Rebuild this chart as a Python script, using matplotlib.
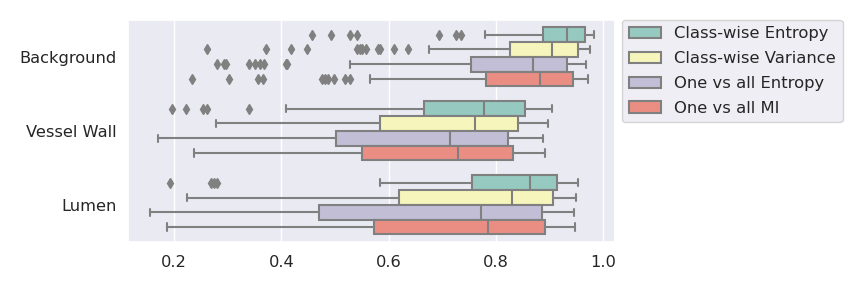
import numpy as np
import matplotlib
matplotlib.use("Agg")
import matplotlib.pyplot as plt
import matplotlib.patches as mpatches
import seaborn as sns

categories = ["Background", "Vessel Wall", "Lumen"]
methods = ["Class-wise Entropy", "Class-wise Variance", "One vs all Entropy", "One vs all MI"]

# box stats: [whislo, q1, med, q3, whishi] per method, per category
bg_stats = [
    [0.779, 0.887, 0.933, 0.966, 0.983],
    [0.676, 0.826, 0.904, 0.952, 0.975],
    [0.528, 0.753, 0.869, 0.932, 0.967],
    [0.565, 0.781, 0.882, 0.944, 0.972],
]
vw_stats = [
    [0.408, 0.665, 0.778, 0.854, 0.905],
    [0.279, 0.584, 0.761, 0.841, 0.897],
    [0.170, 0.501, 0.714, 0.822, 0.888],
    [0.238, 0.550, 0.729, 0.832, 0.891],
]
lu_stats = [
    [0.583, 0.755, 0.863, 0.914, 0.953],
    [0.224, 0.619, 0.830, 0.906, 0.949],
    [0.155, 0.470, 0.772, 0.886, 0.945],
    [0.186, 0.572, 0.785, 0.891, 0.947],
]

# outliers
bg_fliers = [
    [0.457, 0.493, 0.528, 0.541, 0.694, 0.725, 0.734],
    [0.262, 0.371, 0.418, 0.448, 0.541, 0.546, 0.551, 0.557, 0.580, 0.584, 0.610, 0.636],
    [0.280, 0.293, 0.297, 0.339, 0.351, 0.360, 0.367, 0.408, 0.411],
    [0.233, 0.303, 0.357, 0.366, 0.476, 0.481, 0.486, 0.499, 0.519, 0.528],
]
vw_fliers = [
    [0.196, 0.223, 0.254, 0.262, 0.340],
    [], [], [],
]
lu_fliers = [
    [0.193, 0.268, 0.274, 0.280],
    [], [], [],
]

all_stats = [bg_stats, vw_stats, lu_stats]
all_fliers = [bg_fliers, vw_fliers, lu_fliers]

sns.set_theme(style="darkgrid")
palette = [sns.desaturate(c, 0.75) for c in sns.color_palette("Set3", 4)]
gray = "#808080"
fs = 11.7

fig = plt.figure(figsize=(8.64, 2.88), dpi=100)
ax = fig.add_axes([0.148, 0.160, 0.564, 0.771])

n = len(methods)
w = 0.8 / n
for i, cat in enumerate(categories):
    for j in range(n):
        lo, q1, med, q3, hi = all_stats[i][j]
        st = dict(whislo=lo, q1=q1, med=med, q3=q3, whishi=hi,
                  fliers=np.array(all_fliers[i][j]))
        pos = i + (j - (n - 1) / 2) * w
        ax.bxp([st], positions=[pos], widths=w * .98, orientation="horizontal",
               patch_artist=True, showfliers=True,
               boxprops=dict(facecolor=palette[j], edgecolor=gray, linewidth=1.5),
               whiskerprops=dict(color=gray, linewidth=1.5),
               capprops=dict(color=gray, linewidth=1.5),
               medianprops=dict(color=gray, linewidth=1.5),
               flierprops=dict(marker="d", markerfacecolor=gray, markeredgecolor=gray,
                               markersize=5, linestyle="none"),
               manage_ticks=False)

ax.set_yticks(range(len(categories)))
ax.set_yticklabels(categories, fontsize=fs)
ax.set_ylim(len(categories) - 0.5, -0.5)
ax.set_xlim(0.114, 1.022)
ax.set_xticks([0.2, 0.4, 0.6, 0.8, 1.0])
ax.tick_params(axis="x", labelsize=fs)
ax.tick_params(axis="y", pad=2)
ax.yaxis.grid(False)

handles = [mpatches.Patch(facecolor=palette[j], edgecolor=gray, linewidth=1.5, label=methods[j])
           for j in range(n)]
ax.legend(handles=handles, loc="upper left", bbox_to_anchor=(1.014, 1.0),
          borderaxespad=0, fontsize=11.8, labelspacing=0.6)

fig.savefig("out.png", dpi=100)
